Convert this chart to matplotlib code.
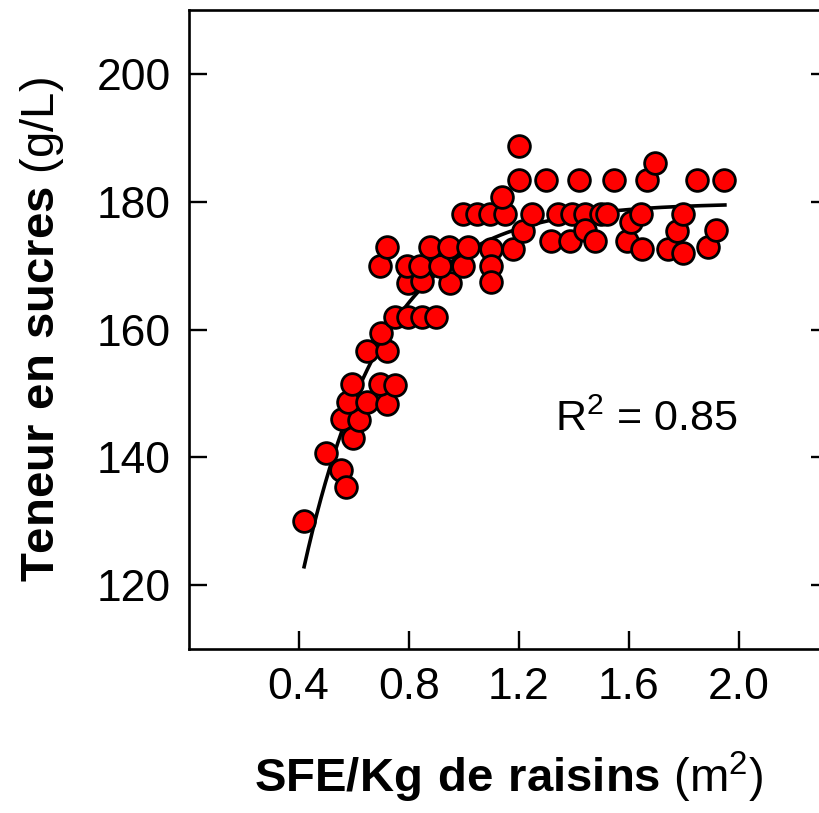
import numpy as np
import matplotlib
matplotlib.use("Agg")
import matplotlib.pyplot as plt

plt.rcParams["font.family"] = ["Liberation Sans", "DejaVu Sans"]
plt.rcParams["mathtext.fontset"] = "custom"
plt.rcParams["mathtext.rm"] = "Liberation Sans"
plt.rcParams["mathtext.bf"] = "Liberation Sans:bold"

# leaf area per kg of grapes (m2) vs sugar content (g/L)
sfe = [0.42, 0.50, 0.553, 0.571, 0.557, 0.599, 0.621, 0.58, 0.593, 0.648,
       0.72, 0.696, 0.75, 0.648, 0.72, 0.70, 0.751, 0.799, 0.848, 0.90,
       0.799, 0.848, 0.95, 0.696, 0.793, 0.843, 0.914, 0.999, 0.72, 0.877,
       0.948, 1.017, 1.10, 1.10, 1.10, 1.179, 1.216, 0.997, 1.048, 1.097,
       1.149, 1.139, 1.20, 1.20, 1.248, 1.298, 1.316, 1.344, 1.388, 1.395,
       1.42, 1.441, 1.441, 1.478, 1.50, 1.52, 1.547, 1.593, 1.608, 1.644,
       1.648, 1.666, 1.696, 1.742, 1.775, 1.797, 1.797, 1.847, 1.887, 1.918,
       1.946]
sucres = [130.0, 140.7, 138.0, 135.3, 146.0, 143.1, 145.9, 148.6, 151.4, 148.6,
          148.4, 151.4, 151.3, 156.6, 156.6, 159.5, 162.0, 162.0, 162.0, 162.0,
          167.3, 167.6, 167.2, 170.0, 170.0, 170.0, 170.0, 170.0, 172.9, 172.9,
          172.9, 172.9, 172.6, 170.0, 167.4, 172.6, 175.4, 178.1, 178.1, 178.1,
          178.1, 180.8, 183.4, 188.7, 178.1, 183.4, 173.9, 178.1, 173.9, 178.1,
          183.4, 178.1, 175.5, 173.8, 178.1, 178.1, 183.4, 173.9, 176.8, 178.1,
          172.6, 183.4, 186.1, 172.6, 175.4, 178.1, 171.9, 183.4, 172.9, 175.5,
          183.4]

# fitted curve y = a - b*exp(-c*x), parameters
FIT_A, FIT_B, FIT_C = 179.8, 237.4, 3.4
FIT_RANGE = (0.42, 1.95)
R2 = 0.85

fig = plt.figure(figsize=(8.19, 8.13), dpi=100)
ax = fig.add_axes([0.2303, 0.2017, 0.7824, 0.786])

xf = np.linspace(FIT_RANGE[0], FIT_RANGE[1], 200)
ax.plot(xf, FIT_A - FIT_B * np.exp(-FIT_C * xf), color="black", lw=2.6, zorder=2)

ax.scatter(sfe, sucres, s=245, color="#ff0000", edgecolor="black",
           linewidth=2.0, zorder=3)

ax.text(1.332, 145.8, f"R$^2$ = {R2}", fontsize=31, va="center", ha="left")

ax.set_xlim(0, 2.33)
ax.set_ylim(110, 210)
ax.set_xticks([0.4, 0.8, 1.2, 1.6, 2.0])
ax.set_xticklabels(["0.4", "0.8", "1.2", "1.6", "2.0"])
ax.set_yticks([120, 140, 160, 180, 200])

ax.tick_params(axis="both", direction="in", length=13, width=1.7,
               labelsize=32, pad=13)
ax.tick_params(axis="y", right=True)
for sp in ax.spines.values():
    sp.set_linewidth(1.9)

ax.set_xlabel(r"$\bf{SFE/Kg\ de\ raisins}$ (m$^2$)", fontsize=34, labelpad=30)
ax.set_ylabel(r"$\bf{Teneur\ en\ sucres}$ (g/L)", fontsize=34, labelpad=22)

fig.savefig("out.png", dpi=100)
